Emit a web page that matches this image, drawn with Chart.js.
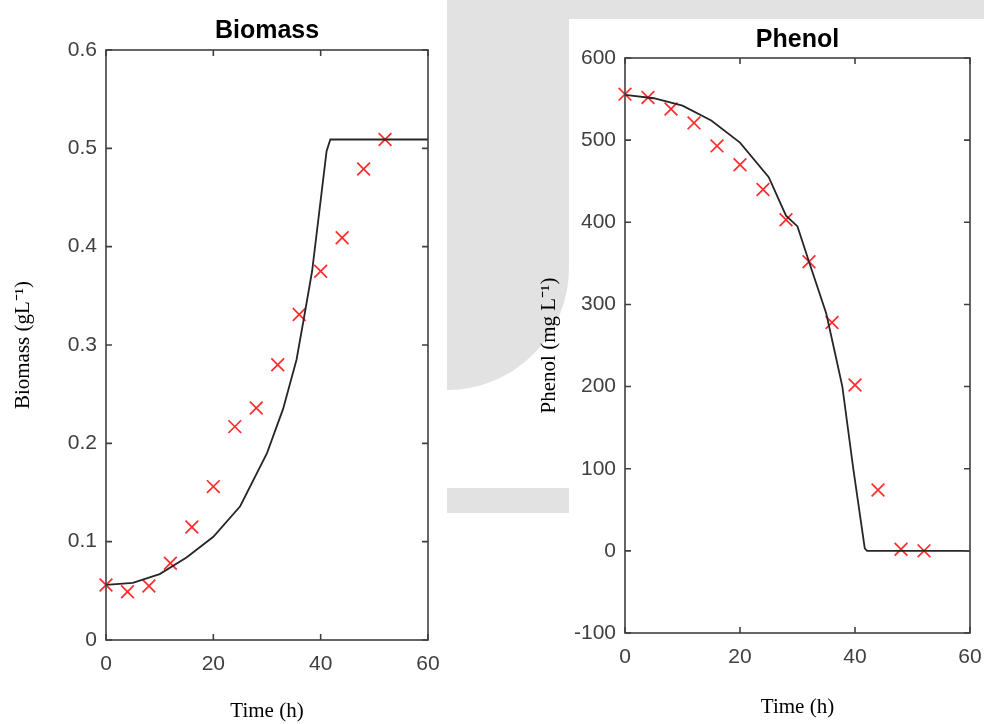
<!DOCTYPE html>
<html>
<head>
<meta charset="utf-8">
<title>Biomass and Phenol</title>
<script src="https://cdn.jsdelivr.net/npm/chart.js@4/dist/chart.umd.min.js"></script>
<style>
  html, body { margin: 0; padding: 0; background: #fff; }
  body { width: 984px; height: 724px; position: relative; overflow: hidden; }
  .wm { position: absolute; background: #e2e2e2; }
  canvas { position: absolute; top: 0; }
</style>
</head>
<body>
<!-- faint background shapes behind the right panel -->
<div class="wm" style="left:447px;top:0;width:537px;height:19px;"></div>
<div class="wm" style="left:447px;top:0;width:122px;height:390px;border-bottom-right-radius:122px 122px;"></div>
<div class="wm" style="left:447px;top:488px;width:122px;height:25px;"></div>

<canvas id="BiomassChart" width="447" height="724" style="left:0;"></canvas>
<canvas id="PhenolChart" width="464" height="724" style="left:520px;"></canvas>

<script>
// measured points (red crosses)
const timeObs = [0, 4, 8, 12, 16, 20, 24, 28, 32, 36, 40, 44, 48, 52];
const biomassObs = [0.056, 0.049, 0.055, 0.078, 0.115, 0.156, 0.217, 0.236, 0.280, 0.331, 0.375, 0.409, 0.479, 0.509];
const phenolObs = [556, 552, 538, 521, 493, 470, 440, 403, 352, 278, 202, 74, 2, 0];

// model curves (black lines)
const biomassFitTime = [0, 5, 10, 15, 20, 25, 30, 33, 35.5, 37, 38.4, 41.1, 41.8, 60];
const biomassFit = [0.056, 0.058, 0.067, 0.084, 0.105, 0.136, 0.190, 0.235, 0.285, 0.331, 0.375, 0.497, 0.509, 0.509];
const phenolFitTime = [0, 5, 10, 15, 20, 25, 28, 30, 32, 35, 36.8, 37.8, 39.7, 41.7, 42.1, 60];
const phenolFit = [555, 551, 542, 524, 497, 455, 408, 395, 352, 289, 232, 200, 100, 3, 0, 0];

const xTicks = [0, 20, 40, 60];

const Chart = window.Chart;

// MATLAB style box with inward ticks on all four sides, title over the plot box
const matlabAxes = {
  id: 'matlabAxes',
  afterDatasetsDraw(chart, args, opts) {
    const ctx = chart.ctx;
    const a = chart.chartArea;
    const x = chart.scales.x;
    const y = chart.scales.y;
    const len = 6;
    ctx.save();
    ctx.strokeStyle = '#404040';
    ctx.lineWidth = 1.6;
    ctx.strokeRect(a.left, a.top, a.right - a.left, a.bottom - a.top);
    ctx.beginPath();
    x.ticks.forEach(t => {
      const px = x.getPixelForValue(t.value);
      ctx.moveTo(px, a.bottom); ctx.lineTo(px, a.bottom - len);
      ctx.moveTo(px, a.top); ctx.lineTo(px, a.top + len);
    });
    y.ticks.forEach(t => {
      const py = y.getPixelForValue(t.value);
      ctx.moveTo(a.left, py); ctx.lineTo(a.left + len, py);
      ctx.moveTo(a.right, py); ctx.lineTo(a.right - len, py);
    });
    ctx.stroke();

    // title
    ctx.fillStyle = '#000';
    ctx.font = 'bold 25px "Liberation Sans", Arial, sans-serif';
    ctx.textAlign = 'center';
    ctx.textBaseline = 'alphabetic';
    ctx.fillText(opts.title, (a.left + a.right) / 2, a.top - opts.titleGap);
    ctx.restore();
  }
};

function toPoints(xs, ys) {
  return xs.map((v, i) => ({ x: v, y: ys[i] }));
}

// one panel: title, y axis range, sizes of the axis boxes
function makePanel(canvas, cfg) {
  const tickFont = { family: '"Liberation Sans", Arial, sans-serif', size: 21 };
  const labelFont = { family: '"Liberation Serif", "Times New Roman", serif', size: 21 };

  return new Chart(canvas, {
    type: 'scatter',
    data: {
      datasets: [
        {
          label: 'Model',
          data: toPoints(cfg.fitTime, cfg.fit),
          showLine: true,
          borderColor: '#262626',
          borderWidth: 1.8,
          pointRadius: 0,
          tension: 0,
        },
        {
          label: 'Experimental',
          data: toPoints(timeObs, cfg.obs),
          pointStyle: 'crossRot',
          pointRadius: 9,
          borderColor: 'rgba(255, 20, 20, 0.9)',
          borderWidth: 1.7,
          clip: false,
        },
      ],
    },
    options: {
      responsive: false,
      animation: false,
      layout: { padding: { left: 0, right: cfg.padRight, top: cfg.padTop, bottom: 0 } },
      plugins: {
        legend: { display: false },
        tooltip: { enabled: false },
        title: { display: false },
        matlabAxes: { title: cfg.title, titleGap: cfg.titleGap },
      },
      scales: {
        x: {
          type: 'linear',
          min: 0,
          max: 60,
          afterBuildTicks: scale => { scale.ticks = xTicks.map(v => ({ value: v })); },
          afterFit: scale => {
            scale.height = cfg.xAxisHeight;
            scale.paddingLeft = 0;
            scale.paddingRight = 0;
          },
          grid: { display: false, drawTicks: false },
          border: { display: false },
          ticks: { color: '#404040', font: tickFont, padding: 12 },
          title: {
            display: true,
            text: 'Time (h)',
            color: '#000',
            font: labelFont,
            padding: { top: 0, bottom: cfg.xTitleBottom },
          },
        },
        y: {
          type: 'linear',
          min: cfg.yMin,
          max: cfg.yMax,
          afterBuildTicks: scale => { scale.ticks = cfg.yTicks.map(v => ({ value: v })); },
          afterFit: scale => {
            scale.width = cfg.yAxisWidth;
            scale.paddingTop = 0;
            scale.paddingBottom = 0;
          },
          grid: { display: false, drawTicks: false },
          border: { display: false },
          ticks: { color: '#404040', font: tickFont, padding: 9 },
          title: {
            display: true,
            text: cfg.yLabel,
            color: '#000',
            font: labelFont,
            padding: { top: cfg.yTitleTop, bottom: 0 },
          },
        },
      },
    },
    plugins: [matlabAxes],
  });
}

makePanel(document.getElementById('BiomassChart'), {
  title: 'Biomass',
  yLabel: 'Biomass (gL\u207B\u00B9)',
  obs: biomassObs,
  fitTime: biomassFitTime,
  fit: biomassFit,
  yMin: 0,
  yMax: 0.6,
  yTicks: [0, 0.1, 0.2, 0.3, 0.4, 0.5, 0.6],
  yAxisWidth: 106,
  xAxisHeight: 84,
  padRight: 19,
  padTop: 50,
  titleGap: 12,
  xTitleBottom: 0,
  yTitleTop: 11,
});

makePanel(document.getElementById('PhenolChart'), {
  title: 'Phenol',
  yLabel: 'Phenol (mg L\u207B\u00B9)',
  obs: phenolObs,
  fitTime: phenolFitTime,
  fit: phenolFit,
  yMin: -100,
  yMax: 600,
  yTicks: [-100, 0, 100, 200, 300, 400, 500, 600],
  yAxisWidth: 105,
  xAxisHeight: 91,
  padRight: 14,
  padTop: 58,
  titleGap: 11,
  xTitleBottom: 4,
  yTitleTop: 17,
});
</script>
</body>
</html>
